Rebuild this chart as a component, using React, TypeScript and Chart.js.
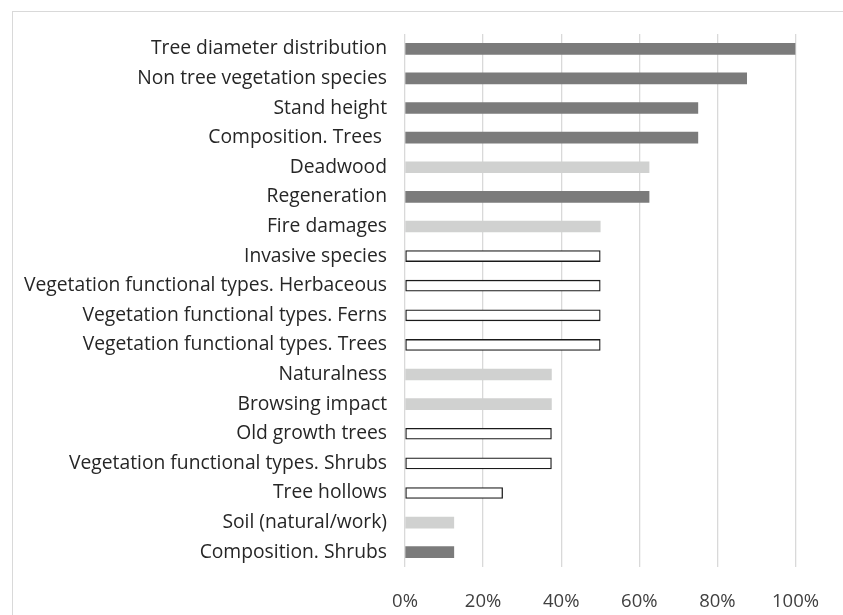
import React, { useEffect, useRef } from "react";
import { Chart, registerables } from "chart.js";

Chart.register(...registerables);

const categories = [
  "Tree diameter distribution",
  "Non tree vegetation species",
  "Stand height",
  "Composition. Trees ",
  "Deadwood",
  "Regeneration",
  "Fire damages",
  "Invasive species",
  "Vegetation functional types. Herbaceous",
  "Vegetation functional types. Ferns",
  "Vegetation functional types. Trees",
  "Naturalness",
  "Browsing impact",
  "Old growth trees",
  "Vegetation functional types. Shrubs",
  "Tree hollows",
  "Soil (natural/work)",
  "Composition. Shrubs",
];

const values = [1, 0.875, 0.75, 0.75, 0.625, 0.625, 0.5, 0.5, 0.5, 0.5, 0.5, 0.375, 0.375, 0.375, 0.375, 0.25, 0.125, 0.125];

// group: "d" dark, "l" light, "w" white outlined
const groups = ["d", "d", "d", "d", "l", "d", "l", "w", "w", "w", "w", "l", "l", "w", "w", "w", "l", "d"];

const xTicks = [0, 0.2, 0.4, 0.6, 0.8, 1];

const FILL: Record<string, string> = { d: "#7b7b7b", l: "#d0d1d0", w: "#ffffff" };
const EDGE: Record<string, string> = { d: "#7b7b7b", l: "#d0d1d0", w: "#1a1a1a" };

export default function App() {
  const ref = useRef<HTMLCanvasElement>(null);
  useEffect(() => {
    document.body.style.margin = "0";
    const ctx = ref.current!;
    const chart = new Chart(ctx, {
      type: "bar",
      data: {
        labels: categories,
        datasets: [
          {
            data: values,
            backgroundColor: groups.map((g) => FILL[g]),
            borderColor: groups.map((g) => EDGE[g]),
            borderWidth: groups.map((g) => (g === "w" ? 1.3 : 0)),
            borderSkipped: false,
            barThickness: 11,
          },
        ],
      },
      options: {
        indexAxis: "y",
        animation: false,
        responsive: false,
        maintainAspectRatio: false,
        devicePixelRatio: 1,
        layout: { padding: { left: 0, right: 46, top: 34, bottom: 0 } },
        plugins: { legend: { display: false }, tooltip: { enabled: false } },
        scales: {
          x: {
            min: 0,
            max: 1,
            afterBuildTicks: (s: any) => {
              s.ticks = xTicks.map((v) => ({ value: v }));
            },
            afterFit: (s: any) => {
              s.height = 48;
            },
            grid: { color: "#d9d9d9", lineWidth: 1.3, drawTicks: false },
            border: { display: false },
            ticks: {
              padding: 24,
              color: "#404040",
              font: { family: "Open Sans", size: 18.5 },
              callback: (v: any) => Math.round(Number(v) * 100) + "%",
            },
          },
          y: {
            afterFit: (s: any) => {
              s.width = 405;
            },
            grid: { display: false, drawTicks: false },
            border: { display: false },
            ticks: {
              padding: 18,
              color: "#262626",
              font: { family: "Open Sans", size: 19.3 },
            },
          },
        },
      },
    });
    return () => chart.destroy();
  }, []);
  return (
    <div style={{ position: "relative", width: 843, height: 615, overflow: "hidden", background: "#fff" }}>
      <div
        style={{
          position: "absolute",
          left: 12,
          top: 11,
          width: 840,
          height: 700,
          border: "1px solid #d9d9d9",
        }}
      />
      <canvas ref={ref} width={843} height={615} style={{ position: "absolute", left: 0, top: 0 }} />
    </div>
  );
}
